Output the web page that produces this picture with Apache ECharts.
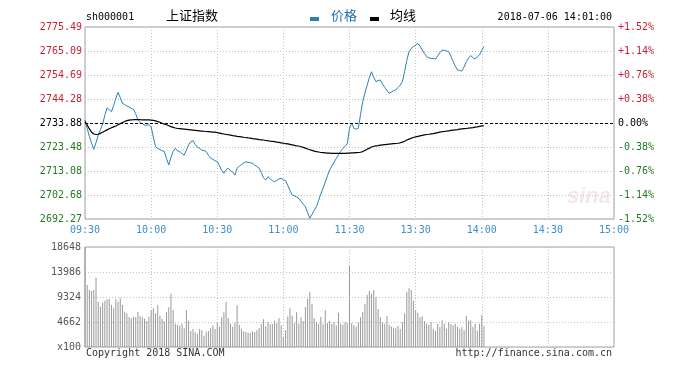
<!DOCTYPE html>
<html>
<head>
<meta charset="utf-8">
<script src="https://cdn.jsdelivr.net/npm/echarts@6/dist/echarts.min.js"></script>
<style>
html,body{margin:0;padding:0;background:#fff;}
#chart{width:687px;height:368px;}
</style>
</head>
<body>
<div id="chart"></div>
<script>
// ---- tick labels ----
const priceTickLabels = ['2692.27','2702.68','2713.08','2723.48','2733.88','2744.28','2754.69','2765.09','2775.49'];
const pctTickLabels = ['-1.52%','-1.14%','-0.76%','-0.38%','0.00%','+0.38%','+0.76%','+1.14%','+1.52%'];
const timeTickLabels = ['09:30','10:00','10:30','11:00','11:30','13:30','14:00','14:30','15:00'];
const volumeTickLabels = ['x100','4662','9324','13986','18648'];
const legendNames = ['价格', '均线'];
const prevClose = 2733.88;
const priceMin = 2692.27;
const priceMax = 2775.49;
const volumeMax = 18648;

// ---- series values (one per minute from 09:30) ----
const priceValues = [
2735.2,2731.5,2728.0,2725.1,2722.5,2725.4,2728.6,2731.0,2733.5,2737.2,
2740.5,2739.6,2738.8,2741.5,2744.6,2747.2,2744.9,2742.4,2741.9,2741.2,
2740.9,2740.2,2739.8,2737.9,2735.2,2734.1,2733.6,2733.0,2732.9,2733.1,
2732.3,2727.8,2723.6,2722.8,2722.4,2721.9,2721.5,2718.4,2715.7,2718.9,
2721.6,2722.9,2721.8,2721.5,2720.6,2720.0,2722.1,2724.4,2725.8,2726.2,
2724.6,2723.4,2722.9,2722.1,2721.9,2721.5,2719.9,2718.6,2718.2,2717.5,
2717.1,2715.4,2713.3,2712.1,2713.6,2714.3,2713.2,2712.6,2711.3,2714.3,
2715.1,2715.9,2716.5,2717.1,2716.8,2716.6,2716.4,2715.6,2715.0,2714.3,
2712.4,2710.1,2709.2,2710.6,2709.7,2708.9,2708.4,2709.0,2709.6,2709.9,
2709.3,2708.9,2706.8,2704.6,2702.7,2702.3,2701.8,2701.2,2699.9,2698.7,
2697.6,2695.0,2692.6,2694.3,2696.0,2697.6,2700.4,2703.1,2705.6,2708.3,
2711.0,2713.5,2715.2,2716.9,2718.5,2720.1,2721.6,2722.9,2723.8,2725.0,
2731.6,2733.8,2731.6,2731.2,2731.6,2737.5,2743.1,2746.8,2750.3,2753.5,
2756.1,2753.6,2751.8,2752.3,2752.5,2750.7,2749.3,2748.0,2746.8,2747.3,
2747.9,2748.2,2749.3,2750.3,2751.8,2756.2,2761.0,2764.8,2766.1,2767.0,
2767.6,2768.4,2767.2,2765.5,2764.0,2762.6,2762.1,2761.9,2761.8,2761.6,
2762.9,2764.3,2765.5,2765.4,2765.1,2764.8,2762.8,2760.5,2758.5,2756.9,
2756.6,2756.4,2758.2,2760.5,2762.0,2763.1,2762.2,2761.6,2762.6,2763.4,
2765.4,2767.0
];
const avgValues = [
2734.5,2733.0,2731.3,2729.9,2729.1,2728.9,2729.0,2729.4,2729.9,2730.4,
2730.9,2731.4,2731.8,2732.2,2732.6,2733.1,2733.6,2734.1,2734.5,2734.9,
2735.1,2735.2,2735.3,2735.3,2735.3,2735.3,2735.2,2735.2,2735.2,2735.2,
2735.1,2735.0,2734.8,2734.5,2734.2,2733.8,2733.4,2733.1,2732.7,2732.3,
2732.0,2731.7,2731.5,2731.4,2731.3,2731.2,2731.1,2731.0,2730.9,2730.8,
2730.7,2730.6,2730.5,2730.4,2730.3,2730.2,2730.1,2730.0,2729.9,2729.9,
2729.7,2729.5,2729.3,2729.1,2728.9,2728.8,2728.6,2728.4,2728.3,2728.1,
2728.0,2727.9,2727.7,2727.6,2727.4,2727.3,2727.1,2727.0,2726.9,2726.7,
2726.6,2726.5,2726.3,2726.2,2726.0,2725.9,2725.8,2725.6,2725.5,2725.3,
2725.1,2724.9,2724.8,2724.6,2724.4,2724.2,2724.0,2723.9,2723.6,2723.3,
2723.0,2722.6,2722.3,2722.0,2721.7,2721.5,2721.3,2721.1,2721.0,2720.9,
2720.8,2720.8,2720.7,2720.7,2720.7,2720.7,2720.7,2720.7,2720.7,2720.8,
2720.8,2720.9,2720.9,2721.0,2721.1,2721.2,2721.5,2722.0,2722.5,2723.0,
2723.5,2723.8,2724.0,2724.1,2724.3,2724.4,2724.5,2724.6,2724.7,2724.8,
2724.9,2725.0,2725.1,2725.3,2725.6,2726.0,2726.5,2726.9,2727.3,2727.6,
2727.9,2728.1,2728.3,2728.5,2728.7,2728.9,2729.0,2729.2,2729.3,2729.5,
2729.7,2729.9,2730.1,2730.2,2730.4,2730.5,2730.7,2730.8,2730.9,2731.0,
2731.2,2731.3,2731.4,2731.5,2731.7,2731.8,2731.9,2732.1,2732.2,2732.4,
2732.6,2732.7
];
const volumeValues = [
18648,11560,10630,10440,10630,12900,8450,7520,8270,8640,
8890,8950,7830,7210,8890,8450,9070,7830,6590,6280,
5530,5350,5660,5530,6590,5780,5530,5280,4850,5660,
6900,7210,6280,7770,5840,5220,4790,6590,7400,9950,
6900,4350,4160,3980,4290,3540,6900,4910,2980,3360,
2730,2420,3360,3110,2110,2860,2980,3480,4040,3360,
4660,3790,5530,6460,8450,5400,4350,3790,4470,7770,
4160,3420,2920,2800,2670,2610,2920,2800,3110,3540,
4350,5160,3850,4660,4220,4290,4910,4470,5340,4040,
1860,3110,5720,7210,5840,4470,6460,4350,5530,4850,
7460,9010,10320,8020,5340,4660,4350,5590,4220,6900,
4470,4910,4290,4660,4040,6400,4350,4160,4660,4470,
15100,4470,4040,3790,4660,5530,6590,8080,9700,10440,
9940,10630,9320,7090,5530,4600,4350,5780,4160,3800,
3600,3480,3980,3350,4660,6280,10320,10940,10630,8640,
6900,6400,5530,5720,4850,4350,4160,4660,3420,2980,
4290,3730,4970,4350,3420,4660,4220,4040,4350,3790,
3420,3670,3110,5780,4910,4970,3790,4290,3040,4350,
5970,3900
];

const priceStep = (priceMax - priceMin) / 8;
const monoFont = '"DejaVu Sans Mono", "Liberation Mono", monospace';
const cjkFont = '"Noto Sans CJK SC", sans-serif';
const gridLine = { show: true, lineStyle: { color: '#c4c4c4', type: [1, 2], width: 1 } };
const priceColor = '#2a80b5';

const chart = echarts.init(document.getElementById('chart'), null, { renderer: 'canvas' });

function priceIdx(v) { return Math.round((v - priceMin) / priceStep); }
function colorKey(i) { return i < 4 ? 'g' : (i > 4 ? 'r' : 'k'); }
const richColors = {
  r: { color: '#cc1f2d', fontFamily: monoFont, fontSize: 10 },
  g: { color: '#247a24', fontFamily: monoFont, fontSize: 10 },
  k: { color: '#000', fontFamily: monoFont, fontSize: 10 }
};

const option = {
  animation: false,
  backgroundColor: '#fff',
  graphic: [
    { type: 'text', left: 86, top: 12, style: { text: 'sh000001', fontSize: 10, fontFamily: monoFont, fill: '#000' } },
    { type: 'text', left: 166, top: 9, style: { text: '上证指数', fontSize: 13, fontFamily: cjkFont, fill: '#000' } },
    { type: 'rect', left: 310, top: 17, shape: { width: 9, height: 4 }, style: { fill: priceColor } },
    { type: 'text', left: 331, top: 9, style: { text: legendNames[0], fontSize: 13, fontFamily: cjkFont, fill: '#1f6fae' } },
    { type: 'rect', left: 370, top: 17, shape: { width: 9, height: 4 }, style: { fill: '#000' } },
    { type: 'text', left: 390, top: 9, style: { text: legendNames[1], fontSize: 13, fontFamily: cjkFont, fill: '#000' } },
    { type: 'text', right: 75, top: 12, style: { text: '2018-07-06 14:01:00', fontSize: 10, fontFamily: monoFont, fill: '#000' } },
    { type: 'text', left: 567, top: 186, style: { text: 'sina', fontSize: 22, fontStyle: 'italic', fontWeight: 'bold', fontFamily: 'Liberation Sans, Arial, sans-serif', fill: 'rgba(200,120,120,0.18)' } },
    { type: 'text', left: 86, top: 348, style: { text: 'Copyright 2018 SINA.COM', fontSize: 10, fontFamily: monoFont, fill: '#333' } },
    { type: 'text', right: 75, top: 348, style: { text: 'http://finance.sina.com.cn', fontSize: 10, fontFamily: monoFont, fill: '#333' } }
  ],
  grid: [
    { left: 85, top: 27, width: 529, height: 192, show: true, borderColor: '#a0a0a0', borderWidth: 1 },
    { left: 85, top: 247, width: 529, height: 100, show: true, borderColor: '#a0a0a0', borderWidth: 1 }
  ],
  xAxis: [
    {
      type: 'value', gridIndex: 0, min: 0, max: 240, interval: 30,
      axisLine: { show: false }, axisTick: { show: false },
      splitLine: gridLine,
      axisLabel: {
        margin: 6, color: '#3d8fd0', fontSize: 10, fontFamily: monoFont,
        formatter: function (v) { return timeTickLabels[Math.round(v / 30)]; }
      }
    },
    {
      type: 'value', gridIndex: 1, min: 0, max: 240, interval: 30,
      axisLine: { show: false }, axisTick: { show: false },
      splitLine: gridLine,
      axisLabel: { show: false }
    }
  ],
  yAxis: [
    {
      type: 'value', gridIndex: 0, min: priceMin, max: priceMax, interval: priceStep,
      axisLine: { show: false }, axisTick: { show: false },
      splitLine: gridLine,
      axisLabel: {
        margin: 3,
        formatter: function (v) { const i = priceIdx(v); return '{' + colorKey(i) + '|' + priceTickLabels[i] + '}'; },
        rich: richColors
      }
    },
    {
      type: 'value', gridIndex: 0, position: 'right', min: priceMin, max: priceMax, interval: priceStep,
      axisLine: { show: false }, axisTick: { show: false },
      splitLine: { show: false },
      axisLabel: {
        margin: 4,
        formatter: function (v) { const i = priceIdx(v); return '{' + colorKey(i) + '|' + pctTickLabels[i] + '}'; },
        rich: richColors
      }
    },
    {
      type: 'value', gridIndex: 1, min: 0, max: volumeMax, interval: volumeMax / 4,
      axisLine: { show: false }, axisTick: { show: false },
      splitLine: gridLine,
      axisLabel: {
        margin: 4, color: '#555', fontSize: 10, fontFamily: monoFont,
        formatter: function (v) { return volumeTickLabels[Math.round(v / (volumeMax / 4))]; }
      }
    }
  ],
  series: [
    {
      name: legendNames[0], type: 'line', xAxisIndex: 0, yAxisIndex: 0,
      data: priceValues.map(function (v, i) { return [i, v]; }),
      showSymbol: false, silent: true,
      lineStyle: { color: priceColor, width: 1 }, itemStyle: { color: priceColor },
      markLine: {
        silent: true, symbol: 'none', label: { show: false },
        lineStyle: { color: '#000', type: [3, 2], width: 1 },
        data: [{ yAxis: prevClose }]
      },
      z: 3
    },
    {
      name: legendNames[1], type: 'line', xAxisIndex: 0, yAxisIndex: 0,
      data: avgValues.map(function (v, i) { return [i, v]; }),
      showSymbol: false, silent: true,
      lineStyle: { color: '#000', width: 1.2 }, itemStyle: { color: '#000' },
      z: 4
    },
    {
      name: 'volume', type: 'bar', xAxisIndex: 1, yAxisIndex: 2,
      data: volumeValues.map(function (v, i) { return [i, v]; }),
      barWidth: 1, silent: true,
      itemStyle: { color: '#999' }
    }
  ]
};
chart.setOption(option);
</script>
</body>
</html>
